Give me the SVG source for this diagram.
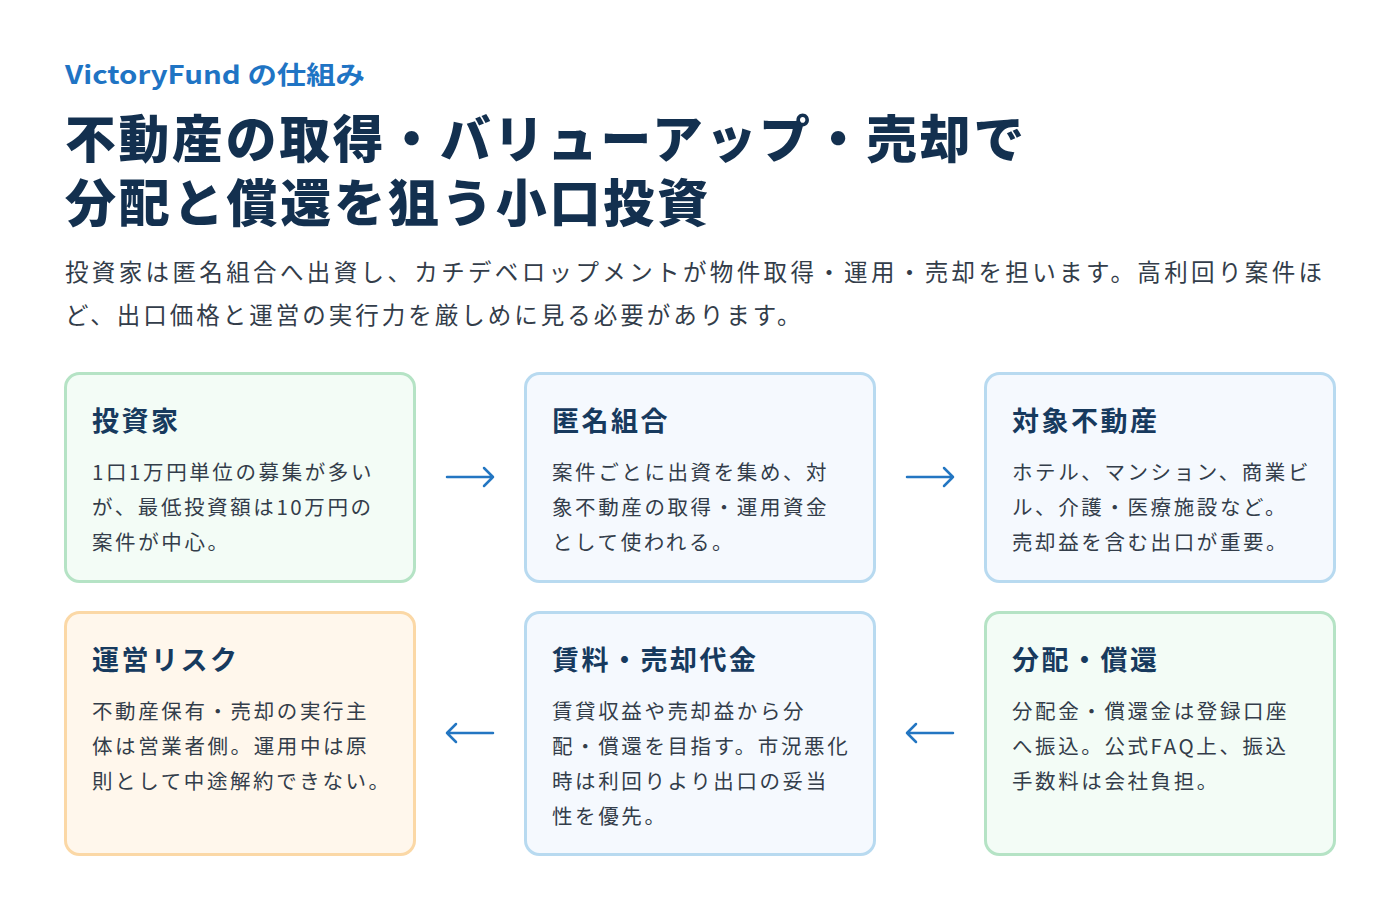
<svg xmlns="http://www.w3.org/2000/svg" width="1400" height="912" viewBox="0 0 1400 912">
<style>
text{font-family:"Noto Sans CJK JP","Noto Sans",sans-serif}
.eyebrow{font-size:25px;font-weight:700;fill:#1f74c4}
.h1{font-size:51px;font-weight:900;fill:#13304f;letter-spacing:2.8px}
.lead{font-size:23.5px;fill:#333d4a;letter-spacing:3px}
.ct{font-size:27px;font-weight:700;fill:#173a5e;letter-spacing:2.5px}
.cb{font-size:20.5px;fill:#333d4a;letter-spacing:2.6px}
.g{fill:#f3fcf6;stroke:#b5e3c5;stroke-width:3}
.b{fill:#f5f9fe;stroke:#b8daf0;stroke-width:3}
.o{fill:#fff7ec;stroke:#fbd8a6;stroke-width:3}
.arr{stroke:#2376c2;stroke-width:2.5;fill:none;stroke-linecap:round;stroke-linejoin:round}
</style>
<rect width="1400" height="912" fill="#fff"/>
<text class="eyebrow" x="65" y="84" textLength="300" lengthAdjust="spacingAndGlyphs">VictoryFund の仕組み</text>
<text class="h1" x="65" y="158" textLength="962" lengthAdjust="spacingAndGlyphs">不動産の取得・バリューアップ・売却で</text>
<text class="h1" x="65" y="222" textLength="646" lengthAdjust="spacingAndGlyphs">分配と償還を狙う小口投資</text>
<text class="lead" x="65" y="281" textLength="1260" lengthAdjust="spacing">投資家は匿名組合へ出資し、カチデベロップメントが物件取得・運用・売却を担います。高利回り案件ほ</text>
<text class="lead" x="65" y="324">ど、出口価格と運営の実行力を厳しめに見る必要があります。</text>
<g id="n1"><rect class="g" x="65.5" y="373.5" width="349" height="208" rx="14"/><text class="ct" x="92" y="431">投資家</text>
<text class="cb" x="92" y="480">1口1万円単位の募集が多い</text><text class="cb" x="92" y="515">が、最低投資額は10万円の</text><text class="cb" x="92" y="550">案件が中心。</text></g>
<g id="n2"><rect class="b" x="525.5" y="373.5" width="349" height="208" rx="14"/><text class="ct" x="552" y="431">匿名組合</text>
<text class="cb" x="552" y="480">案件ごとに出資を集め、対</text><text class="cb" x="552" y="515">象不動産の取得・運用資金</text><text class="cb" x="552" y="550">として使われる。</text></g>
<g id="n3"><rect class="b" x="985.5" y="373.5" width="349" height="208" rx="14"/><text class="ct" x="1012" y="431">対象不動産</text>
<text class="cb" x="1012" y="480">ホテル、マンション、商業ビ</text><text class="cb" x="1012" y="515">ル、介護・医療施設など。</text><text class="cb" x="1012" y="550">売却益を含む出口が重要。</text></g>
<g id="n4"><rect class="o" x="65.5" y="612.5" width="349" height="242" rx="14"/><text class="ct" x="92" y="670">運営リスク</text>
<text class="cb" x="92" y="719">不動産保有・売却の実行主</text><text class="cb" x="92" y="754">体は営業者側。運用中は原</text><text class="cb" x="92" y="789">則として中途解約できない。</text></g>
<g id="n5"><rect class="b" x="525.5" y="612.5" width="349" height="242" rx="14"/><text class="ct" x="552" y="670">賃料・売却代金</text>
<text class="cb" x="552" y="719">賃貸収益や売却益から分</text><text class="cb" x="552" y="754">配・償還を目指す。市況悪化</text><text class="cb" x="552" y="789">時は利回りより出口の妥当</text><text class="cb" x="552" y="824">性を優先。</text></g>
<g id="n6"><rect class="g" x="985.5" y="612.5" width="349" height="242" rx="14"/><text class="ct" x="1012" y="670">分配・償還</text>
<text class="cb" x="1012" y="719">分配金・償還金は登録口座</text><text class="cb" x="1012" y="754">へ振込。公式FAQ上、振込</text><text class="cb" x="1012" y="789">手数料は会社負担。</text></g>
<g id="connectors">
<path class="arr" d="M447 477H493M484 468L493 477L484 486"/>
<path class="arr" d="M907 477H953M944 468L953 477L944 486"/>
<path class="arr" d="M953 733H907M916 724L907 733L916 742"/>
<path class="arr" d="M493 733H447M456 724L447 733L456 742"/>
</g>
</svg>
